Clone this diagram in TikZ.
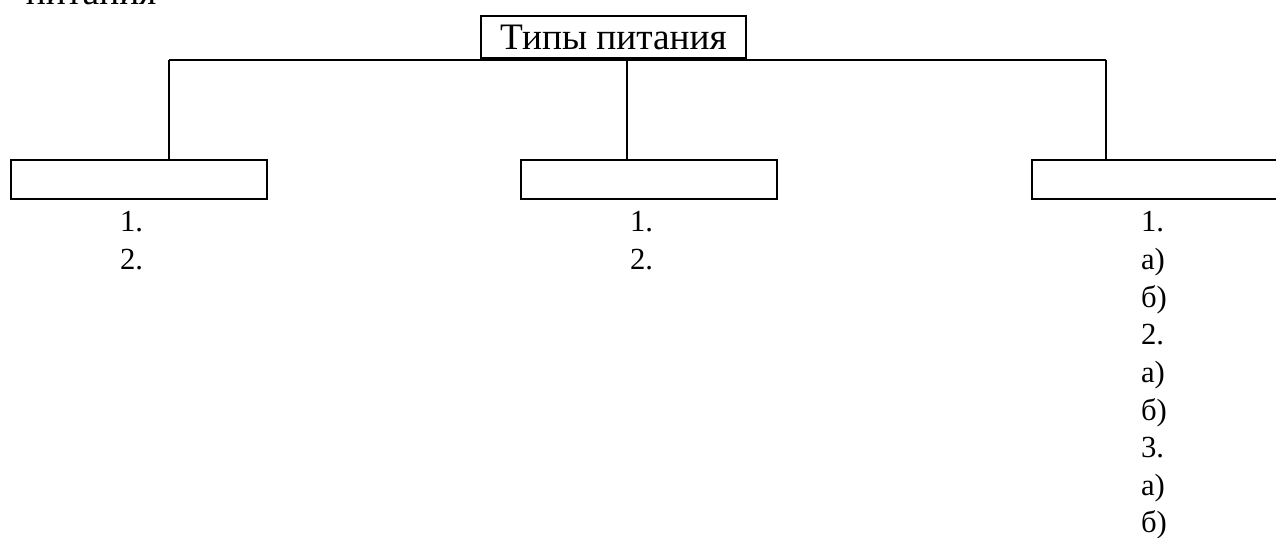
\documentclass[tikz,border=0pt]{standalone}
\usepackage{fontspec}
\setmainfont{Liberation Serif}
\begin{document}
\begin{tikzpicture}[x=0.75pt,y=-0.75pt,line width=1.5pt,
  box/.style={draw,rectangle,inner sep=0pt,minimum width=192pt,minimum height=29.25pt},
  hdr/.style={font=\fontsize{28}{30}\selectfont},
  item/.style={anchor=base west,inner sep=0pt,font=\fontsize{23}{28}\selectfont}]
\useasboundingbox (0,0) rectangle (1276,538);
\clip (0,0) rectangle (1276,538);
\node[hdr,anchor=base west,inner sep=0pt] (cap) at (25,5) {питания};
\node[draw,rectangle,inner sep=0pt,minimum width=198.75pt,minimum height=31.5pt,hdr] (top) at (613.5,37) {Типы питания};
\node[box] (left) at (138.5,179.5) {};
\node[box] (mid) at (649,179.5) {};
\node[box] (right) at (1160,179.5) {};
\coordinate (j1) at (169,60);
\coordinate (j2) at (627,60);
\coordinate (j3) at (1106,60);
\draw (j1) -- (j3);
\draw (j2 |- top.south) -- (j2) -- (j2 |- mid.north);
\draw (j1) -- (j1 |- left.north);
\draw (j3) -- (j3 |- right.north);
\node[item] (l1) at (119,232) {1.};
\node[item] (l2) at (119,269.6) {2.};
\node[item] (m1) at (629,232) {1.};
\node[item] (m2) at (629,269.6) {2.};
\foreach \t [count=\i from 0] in {1.,а),б),2.,а),б),3.,а),б)}
  \node[item] (r\i) at (1140,232+37.6*\i) {\t};
\end{tikzpicture}
\end{document}
